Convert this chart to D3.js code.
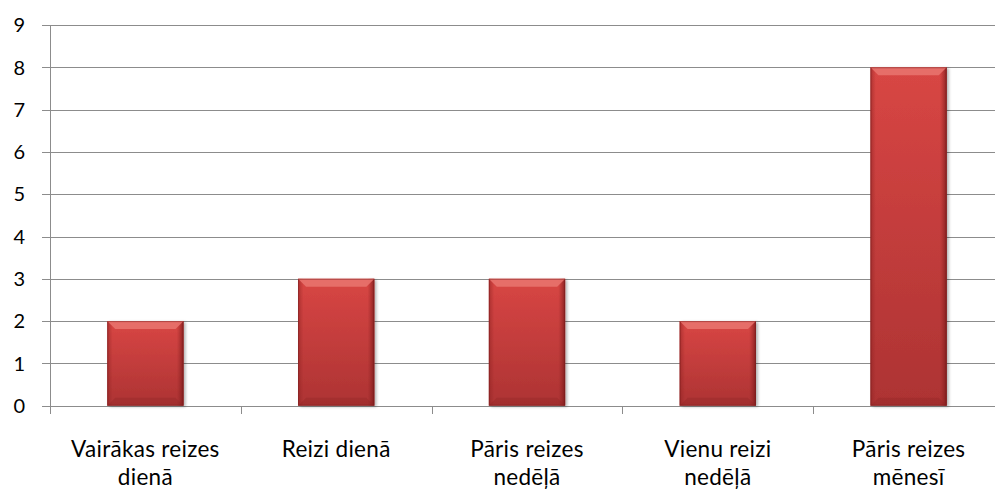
<!DOCTYPE html>
<html><head><meta charset="utf-8">
<script src="https://cdn.jsdelivr.net/npm/d3@7"></script>
<style>body{margin:0;background:#fff;overflow:hidden}text{font-family:Lato,"Open Sans",sans-serif;fill:#000}</style>
</head><body>
<svg id="c" width="995" height="490"></svg>
<script>
const categories = ["Vairākas reizes|dienā","Reizi dienā","Pāris reizes|nedēļā","Vienu reizi|nedēļā","Pāris reizes|mēnesī"];
const values = [2,3,3,2,8];
const yTicks = [0,1,2,3,4,5,6,7,8,9];

(function(){
const svg = d3.select("#c");
const mL = 50, mR = 1004, mT = 25, mB = 405.7;
const x = d3.scaleBand().domain(categories).range([mL,mR]).paddingInner(0.6).paddingOuter(0.3);
const xc = d3.scaleBand().domain(categories).range([mL,mR]);
const y = d3.scaleLinear().domain([0,9]).range([mB,mT]);

const defs = svg.append("defs");
const g1 = defs.append("linearGradient").attr("id","barg").attr("x1",0).attr("y1",0).attr("x2",0).attr("y2",1);
g1.append("stop").attr("offset","0%").attr("stop-color","#d84644");
g1.append("stop").attr("offset","100%").attr("stop-color","#ad3333");
const g2 = defs.append("linearGradient").attr("id","side").attr("x1",0).attr("y1",0).attr("x2",1).attr("y2",0);
g2.append("stop").attr("offset","0%").attr("stop-color","#8e2222").attr("stop-opacity",0.55);
g2.append("stop").attr("offset","7%").attr("stop-color","#8e2222").attr("stop-opacity",0);
g2.append("stop").attr("offset","91%").attr("stop-color","#8e2222").attr("stop-opacity",0);
g2.append("stop").attr("offset","100%").attr("stop-color","#6e1515").attr("stop-opacity",0.75);
const f = defs.append("filter").attr("id","sh").attr("x","-10%").attr("y","-5%").attr("width","130%").attr("height","115%");
f.append("feGaussianBlur").attr("in","SourceAlpha").attr("stdDeviation",1.5);
f.append("feOffset").attr("dx",1.5).attr("dy",1).attr("result","b");
f.append("feComponentTransfer").append("feFuncA").attr("type","linear").attr("slope",0.3);
const m = f.append("feMerge"); m.append("feMergeNode"); m.append("feMergeNode").attr("in","SourceGraphic");

svg.append("g").selectAll("line").data(yTicks).join("line")
  .attr("x1",mL-8).attr("x2",995).attr("y1",d=>Math.round(y(d))+0.5).attr("y2",d=>Math.round(y(d))+0.5)
  .attr("stroke","#8c8c8c").attr("stroke-width",1);
svg.append("line").attr("x1",mL+0.5).attr("x2",mL+0.5).attr("y1",Math.round(y(9))).attr("y2",Math.round(y(0))+8)
  .attr("stroke","#8c8c8c");
svg.append("g").selectAll("text").data(yTicks).join("text")
  .attr("x",25).attr("y",d=>y(d)).attr("dy","0.36em").attr("text-anchor","end")
  .style("font-size","20px").text(d=>d);
svg.append("g").selectAll("line").data(categories.slice(1)).join("line")
  .attr("x1",d=>Math.round(xc(d))+0.5).attr("x2",d=>Math.round(xc(d))+0.5)
  .attr("y1",Math.round(y(0))).attr("y2",Math.round(y(0))+8).attr("stroke","#8c8c8c");

const bars = svg.append("g").selectAll("g").data(categories).join("g");
bars.each(function(c,i){
  const g = d3.select(this);
  const bx = x(c), bw = x.bandwidth(), by = y(values[i]), bh = y(0)-y(values[i]);
  g.append("rect").attr("x",bx).attr("y",by).attr("width",bw).attr("height",bh).attr("fill","url(#barg)").attr("filter","url(#sh)");
  g.append("rect").attr("x",bx).attr("y",by).attr("width",bw).attr("height",bh).attr("fill","url(#side)");
  const b = 8;
  g.append("path").attr("d",`M${bx},${by}L${bx+bw},${by}L${bx+bw-b},${by+b}L${bx+b},${by+b}Z`).attr("fill","#e8726d").attr("opacity",0.9);
  g.append("path").attr("d",`M${bx},${by+bh}L${bx+bw},${by+bh}L${bx+bw-b},${by+bh-b}L${bx+b},${by+bh-b}Z`).attr("fill","#8f2525").attr("opacity",0.35);
  g.append("rect").attr("x",bx+0.5).attr("y",by+0.5).attr("width",bw-1).attr("height",bh-1).attr("fill","none").attr("stroke","#7a1c1c").attr("stroke-opacity",0.5);
});

const lab = svg.append("g").selectAll("text").data(categories).join("text")
  .attr("text-anchor","middle").attr("x",d=>xc(d)+xc.bandwidth()/2).attr("y",457)
  .style("font-size","22.5px").style("letter-spacing","0.3px");
lab.each(function(d){
  const t = d3.select(this);
  d.split("|").forEach((s,k)=>t.append("tspan").attr("x",xc(d)+xc.bandwidth()/2).attr("dy",k?28:0).text(s));
});
})();
</script>
</body></html>
